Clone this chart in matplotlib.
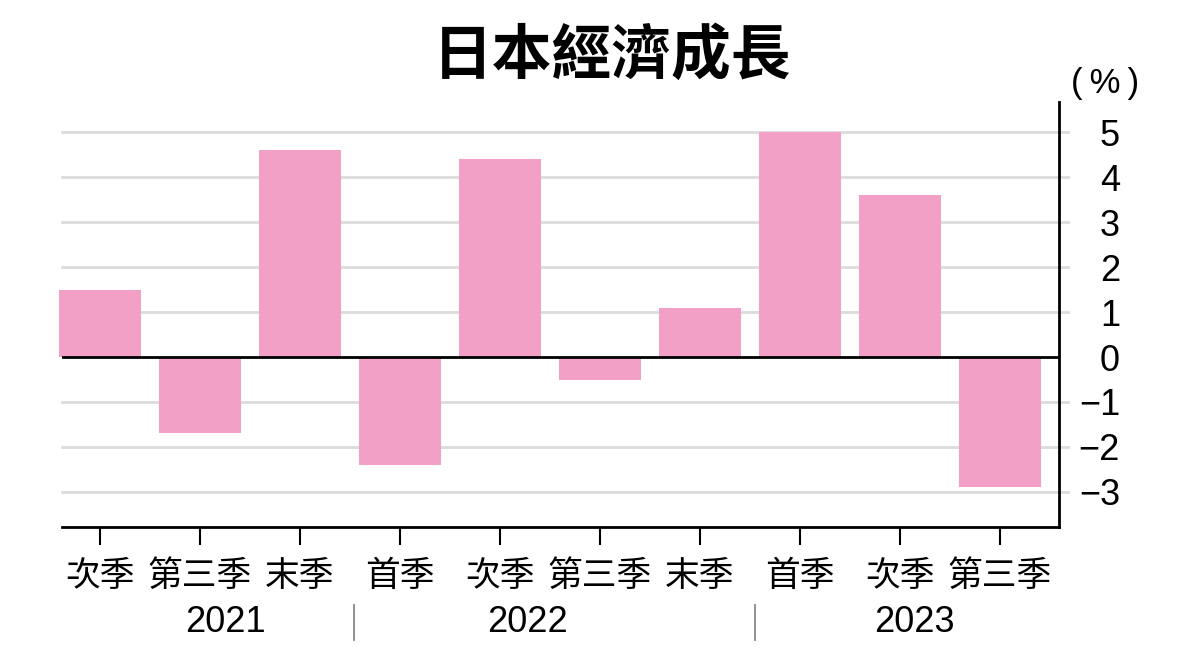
import matplotlib.pyplot as plt
import matplotlib.transforms as mtransforms
import numpy as np

plt.rcParams['font.family'] = ['Liberation Sans', 'Noto Sans CJK TC', 'DejaVu Sans']

# Data (annualised %, quarterly)
quarters = ['次季', '第三季', '末季', '首季', '次季', '第三季', '末季', '首季', '次季', '第三季']
growth = [1.5, -1.7, 4.6, -2.4, 4.4, -0.5, 1.1, 5.0, 3.6, -2.9]
years = ['2021', '2022', '2023']
year_pos = [1.25, 4.27, 8.14]
year_breaks = [2.54, 6.55]
yticks = [5, 4, 3, 2, 1, 0, -1, -2, -3]

fig = plt.figure(figsize=(12, 6.67), dpi=100)
ax = fig.add_axes([0.0517, 0.2099, 0.8308, 0.6371])

x = np.arange(len(growth))

# grid lines that run slightly past the right spine
trans = mtransforms.blended_transform_factory(ax.transAxes, ax.transData)
for t in yticks:
    if t == 0:
        continue
    ax.plot([0, 1.009], [t, t], transform=trans, color='#dcdcdc', lw=2,
            clip_on=False, zorder=1)

ax.bar(x, growth, width=0.82, color='#F2A0C6', zorder=2, clip_on=False)
ax.axhline(0, color='black', lw=2, zorder=3)

ax.set_xlim(-0.38, 9.59)
ax.set_ylim(-3.78, 5.67)

for side in ['top', 'left']:
    ax.spines[side].set_visible(False)
ax.spines['bottom'].set_linewidth(2)
ax.spines['right'].set_linewidth(2)

ax.yaxis.tick_right()
ax.set_yticks(yticks)
ax.set_yticklabels([str(t).replace('-', '\u2212') for t in yticks])
ax.tick_params(axis='y', length=0, pad=44, labelsize=26)
for lab in ax.get_yticklabels():
    lab.set_horizontalalignment('right')

ax.set_xticks(x)
ax.set_xticklabels(quarters)
ax.tick_params(axis='x', direction='out', length=13, width=1.5, pad=11, labelsize=25)

# year labels and separators under the quarter labels
xtrans = mtransforms.blended_transform_factory(ax.transData, fig.transFigure)
for yr, pos in zip(years, year_pos):
    fig.text(pos, 1 - 622 / 667, yr, transform=xtrans, ha='center', va='center',
             fontsize=26)
for b in year_breaks:
    fig.lines.append(plt.Line2D([b, b], [1 - 605 / 667, 1 - 640 / 667],
                                transform=xtrans, color='#888888', lw=1.3))

fig.text(0.51, 1 - 57 / 667, '日本經濟成長', ha='center', va='center',
         fontsize=43, fontweight='bold')
fig.text(1105 / 1200, 1 - 84 / 667, '(\u2009%\u2009)', ha='center', va='center',
         fontsize=25)

fig.savefig('out.png', dpi=100, facecolor='white')
